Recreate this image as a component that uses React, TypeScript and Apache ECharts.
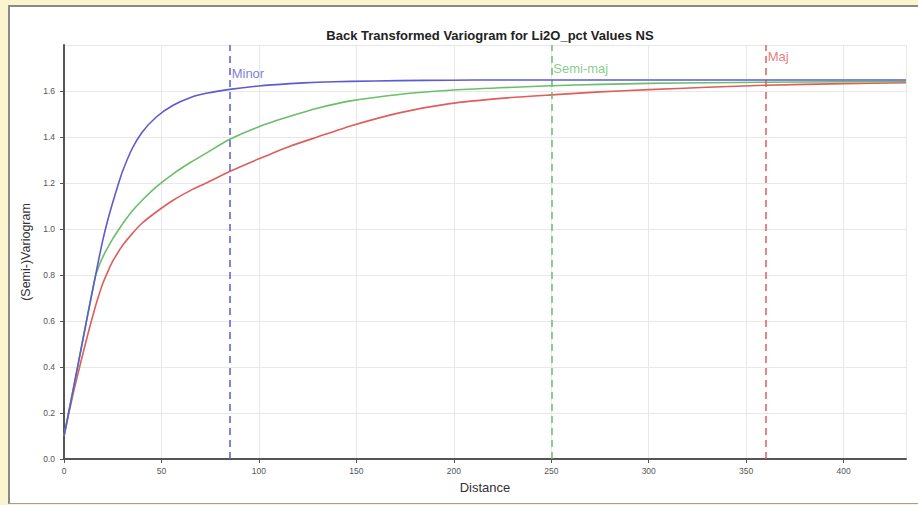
import React, { useEffect, useRef } from "react";
import * as echarts from "echarts";

const distances = [0, 2, 5, 8, 12, 16, 18, 20, 22.5, 25, 27.5, 30, 35, 40, 47.5, 56, 65, 73, 85, 100, 116, 130, 147, 172, 198, 224, 250, 275, 300, 330, 360, 400, 432];
const minorValues = [0.1, 0.185, 0.315, 0.445, 0.62, 0.79, 0.875, 0.955, 1.04, 1.115, 1.185, 1.25, 1.35, 1.42, 1.488, 1.538, 1.572, 1.59, 1.607, 1.622, 1.632, 1.638, 1.642, 1.645, 1.647, 1.648, 1.648, 1.648, 1.648, 1.648, 1.648, 1.648, 1.648];
const semiMajValues = [0.1, 0.185, 0.315, 0.445, 0.62, 0.79, 0.84, 0.88, 0.92, 0.957, 0.99, 1.022, 1.078, 1.124, 1.184, 1.24, 1.29, 1.33, 1.39, 1.445, 1.49, 1.525, 1.557, 1.585, 1.603, 1.614, 1.623, 1.629, 1.633, 1.636, 1.638, 1.64, 1.641];
const majValues = [0.1, 0.18, 0.295, 0.4, 0.535, 0.66, 0.715, 0.765, 0.815, 0.86, 0.895, 0.928, 0.98, 1.025, 1.075, 1.125, 1.168, 1.2, 1.25, 1.305, 1.36, 1.4, 1.448, 1.505, 1.545, 1.568, 1.583, 1.596, 1.606, 1.616, 1.625, 1.632, 1.636];
const rangeNames = ["Minor", "Semi-maj", "Maj"];
const rangeDistances = [85, 250, 360];
const xTicks = [0, 50, 100, 150, 200, 250, 300, 350, 400];
const yTicks = [0, 0.2, 0.4, 0.6, 0.8, 1.0, 1.2, 1.4, 1.6];

const colors = ["#5b5ccf", "#6abf69", "#df5d5a"];
const FONT = "Liberation Sans, Arial, sans-serif";

export default function App() {
  const ref = useRef<HTMLDivElement>(null);
  useEffect(() => {
    if (!ref.current) return;
    const chart = echarts.init(ref.current, null, { renderer: "svg" });
    const curves = [minorValues, semiMajValues, majValues];
    const labelLevels = [1.675, 1.696, 1.748];
    const series: any[] = [];
    curves.forEach((vals, i) => {
      series.push({
        type: "line",
        name: rangeNames[i],
        data: distances.map((d, k) => [d, vals[k]]),
        showSymbol: false,
        smooth: 0.2,
        lineStyle: { color: colors[i], width: 1.6 },
        z: 5 - i,
        markLine: {
          silent: true,
          symbol: "none",
          data: [{ xAxis: rangeDistances[i] }],
          lineStyle: { color: colors[i], type: [7, 5], width: 1.5 },
          label: { show: false },
        },
      });
    });
    series.push({
      type: "scatter",
      symbolSize: 0,
      silent: true,
      data: rangeDistances.map((d, i) => ({
        value: [d, labelLevels[i]],
        label: {
          show: true,
          position: "right",
          distance: 2,
          formatter: rangeNames[i],
          color: colors[i],
          fontSize: 13,
          fontFamily: FONT,
        },
      })),
    });

    chart.setOption({
      animation: false,
      title: {
        text: "Back Transformed Variogram for Li2O_pct Values NS",
        left: 485,
        textAlign: "center",
        top: 24,
        textStyle: { fontSize: 13, fontWeight: "bold", color: "#222", fontFamily: FONT },
      },
      grid: { left: 64, right: 12, top: 45, bottom: 46 },
      xAxis: {
        type: "value",
        min: 0,
        max: 432,
        interval: 50,
        name: "Distance",
        nameLocation: "middle",
        nameGap: 22,
        nameTextStyle: { fontSize: 13, color: "#333", fontFamily: FONT },
        axisLine: { lineStyle: { color: "#555", width: 2 } },
        axisTick: { show: true, length: 4, lineStyle: { color: "#555" } },
        axisLabel: {
          fontSize: 8.5,
          color: "#555",
          margin: 7,
          showMaxLabel: false,
          fontFamily: FONT,
          formatter: (v: number) => (xTicks.includes(v) ? String(v) : ""),
        },
        splitLine: { show: true, lineStyle: { color: "#e8e8e8", width: 1 } },
      },
      yAxis: {
        type: "value",
        min: 0,
        max: 1.8,
        interval: 0.2,
        name: "(Semi-)Variogram",
        nameLocation: "middle",
        nameGap: 24,
        nameTextStyle: { fontSize: 12.5, color: "#333", fontFamily: FONT },
        axisLine: { show: true, lineStyle: { color: "#555", width: 2 } },
        axisTick: { show: true, length: 4, lineStyle: { color: "#555" } },
        axisLabel: {
          fontSize: 8.5,
          color: "#555",
          margin: 9,
          showMaxLabel: false,
          fontFamily: FONT,
          formatter: (v: number) => (yTicks.some((t) => Math.abs(t - v) < 1e-6) ? v.toFixed(1) : ""),
        },
        splitLine: { show: true, lineStyle: { color: "#e8e8e8", width: 1 } },
      },
      series,
    });
    return () => chart.dispose();
  }, []);

  return (
    <div style={{ position: "fixed", left: 0, top: 0, width: 918, height: 505, background: "#fbf5cf" }}>
      <div
        style={{
          position: "absolute",
          left: 8,
          top: 5,
          width: 915,
          height: 496,
          background: "#fff",
          borderLeft: "2px solid #8a8a86",
          borderTop: "2px solid #8a8a86",
          borderBottom: "1px solid #a0a09c",
        }}
      />
      <div ref={ref} style={{ position: "absolute", left: 0, top: 0, width: 918, height: 505 }} />
    </div>
  );
}
